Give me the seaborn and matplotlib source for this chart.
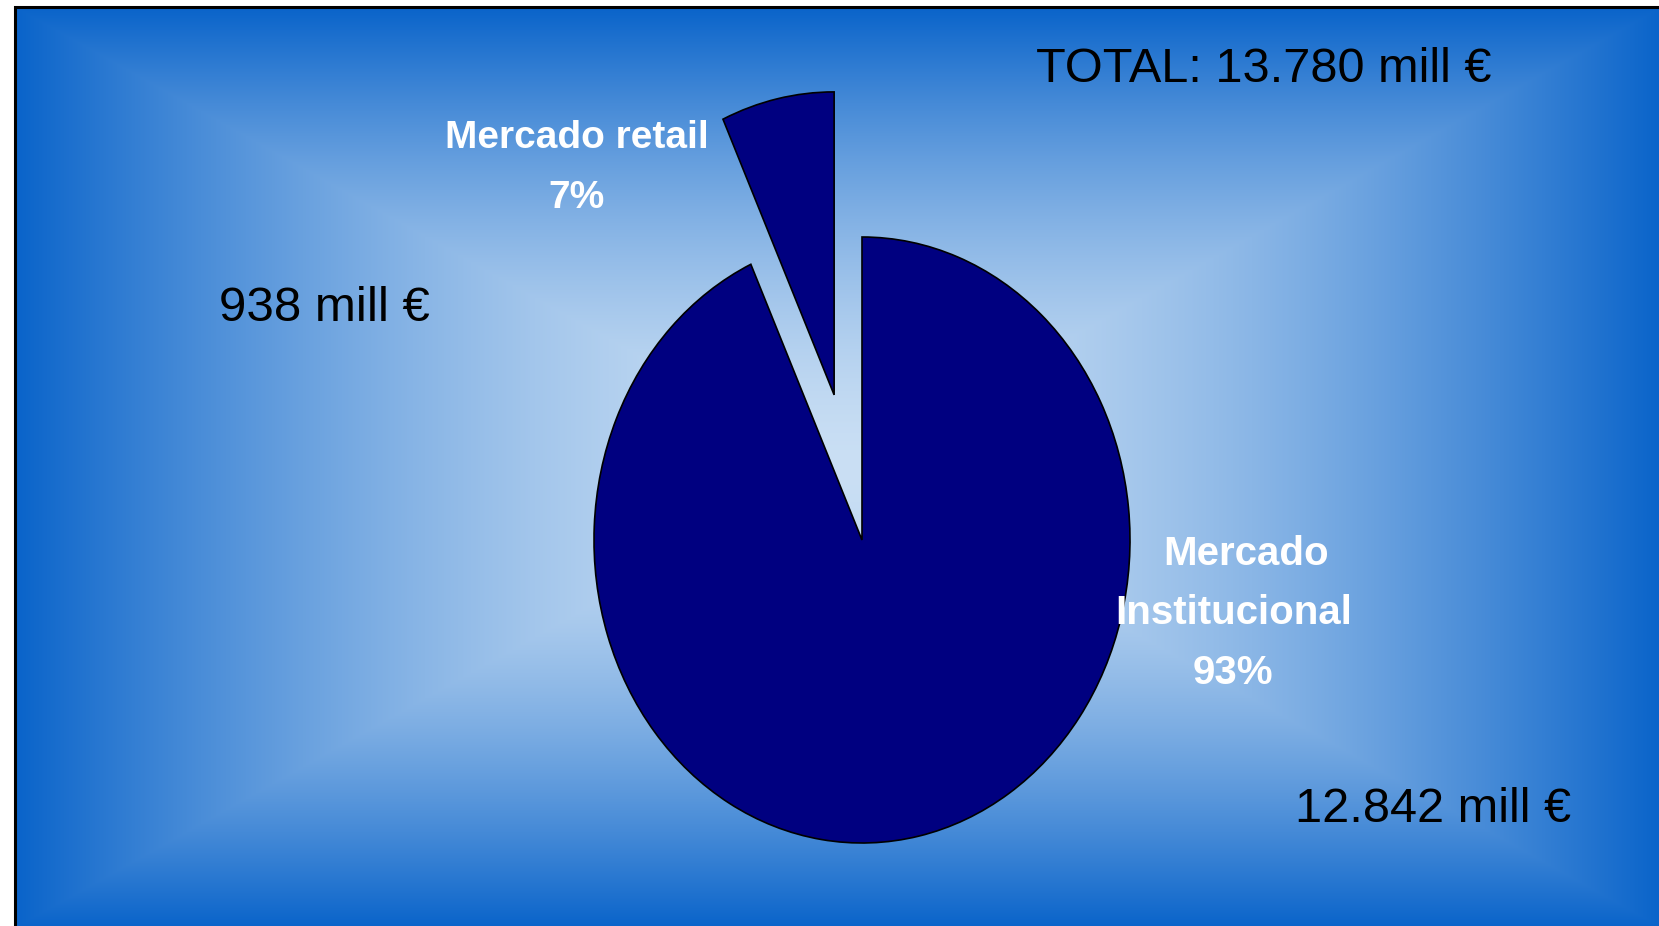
import matplotlib.pyplot as plt
from matplotlib.patches import Rectangle
import numpy as np
import seaborn as sns

# market split, millions of euros
segments = ["Mercado retail", "Mercado\nInstitucional"]
amounts = [938, 12842]
explode = [0.49, 0.0]

W, H = 1659, 926
CX, CY, RX, RY = 862, 540, 268, 303  # pie centre / radii in pixels


def dx(px):
    return (px - CX) / RX


def dy(py):
    return (CY - py) / RY


def fmt(v):
    return f"{v:,}".replace(",", ".")


sns.set_theme(style="white")
plt.rcParams["font.family"] = ["Liberation Sans", "DejaVu Sans"]

fig = plt.figure(figsize=(W / 100, H / 100), dpi=100)
fig.patch.set_facecolor("white")
ax = fig.add_axes([0, 0, 1, 1])

# rectangular "from centre" gradient background
x0, x1, y0, y1 = 17, W, 8, H
gx, gy = 838, 467
xs = np.arange(x0, x1)
ys = np.arange(y0, y1)
XX, YY = np.meshgrid(xs, ys)
t = np.maximum(np.abs(XX - gx) / (x1 - gx), np.abs(YY - gy) / (y1 - gy))
t = np.clip(t, 0, 1) ** 1.6
light = np.array([202, 223, 244]) / 255
edge = np.array([10, 100, 202]) / 255
img = light[None, None, :] * (1 - t[..., None]) + edge[None, None, :] * t[..., None]
ax.imshow(img, extent=[dx(x0), dx(x1), dy(y1), dy(y0)], aspect="auto",
          interpolation="bilinear", zorder=0)
ax.add_patch(Rectangle((dx(15), dy(H + 5)), dx(W + 5) - dx(15), dy(7) - dy(H + 5),
                       fill=False, edgecolor="black", linewidth=2.2, zorder=3))

ax.pie(amounts, explode=explode, startangle=90, counterclock=True,
       colors=["#000080", "#000080"],
       wedgeprops=dict(edgecolor="black", linewidth=1.2), radius=1)
ax.set_aspect("auto")
ax.set_xlim(dx(0), dx(W))
ax.set_ylim(dy(H), dy(0))
ax.axis("off")

total = sum(amounts)
pcts = [f"{round(a / total * 100)}%" for a in amounts]


def ftext(px, py, s, **kw):
    fig.text(px / W, 1 - py / H, s, ha="center", va="baseline", **kw)


bold = dict(color="white", fontweight="bold",
            family=["Liberation Sans Narrow", "Liberation Sans", "DejaVu Sans"])

# retail label
ftext(577, 148, segments[0], fontsize=28, **bold)
ftext(577, 208, pcts[0], fontsize=28, **bold)
# institutional label
ftext(1246, 565, segments[1].split("\n")[0], fontsize=29, **bold)
ftext(1234, 624, segments[1].split("\n")[1], fontsize=29, **bold)
ftext(1233, 684, pcts[1], fontsize=29, **bold)

ftext(1264, 82, f"TOTAL: {fmt(total)} mill €", color="black", fontsize=35)
ftext(324, 321, f"{fmt(amounts[0])} mill €", color="black", fontsize=35.5)
ftext(1433, 822, f"{fmt(amounts[1])} mill €", color="black", fontsize=35)

fig.savefig("out.png", dpi=100)
